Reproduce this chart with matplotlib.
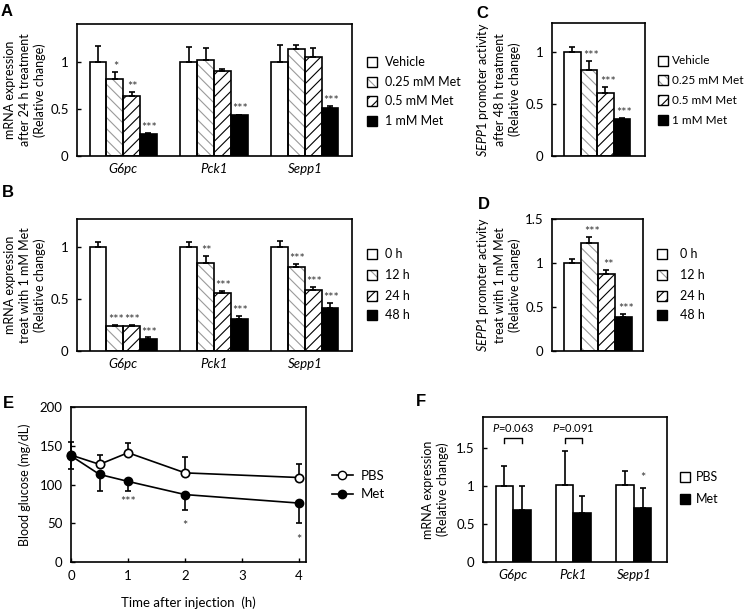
import numpy as np
import matplotlib
matplotlib.use("Agg")
import matplotlib.pyplot as plt
from matplotlib.patches import Rectangle
from matplotlib.lines import Line2D

plt.rcParams['font.family'] = ['Lato', 'DejaVu Sans']
plt.rcParams['font.size'] = 9
plt.rcParams['mathtext.fontset'] = 'custom'
plt.rcParams['mathtext.it'] = 'Lato:italic'
plt.rcParams['mathtext.rm'] = 'Lato'
plt.rcParams['hatch.linewidth'] = 0.8

FS = 9  # main text size
SFS = 9  # significance star size

# ---- data ----
genes = ['G6pc', 'Pck1', 'Sepp1']

# A: 24 h treatment, dose
doseLabels = ['Vehicle', '0.25 mM Met', '0.5 mM Met', '1 mM Met']
A_vals = [[1.00, 1.00, 1.00], [0.82, 1.02, 1.13], [0.64, 0.90, 1.05], [0.23, 0.43, 0.51]]
A_err = [[0.17, 0.16, 0.18], [0.07, 0.13, 0.05], [0.04, 0.02, 0.10], [0.01, 0.01, 0.02]]
A_stars = [['', '', ''], ['*', '', ''], ['**', '', ''], ['***', '***', '***']]

# B: 1 mM Met, time
timeLabels = ['0 h', '12 h', '24 h', '48 h']
B_vals = [[1.00, 1.00, 1.00], [0.24, 0.85, 0.81], [0.24, 0.56, 0.59], [0.12, 0.31, 0.41]]
B_err = [[0.05, 0.05, 0.06], [0.01, 0.06, 0.03], [0.01, 0.02, 0.03], [0.01, 0.03, 0.05]]
B_stars = [['', '', ''], ['***', '**', '***'], ['***', '***', '***'], ['***', '***', '***']]

# C: SEPP1 promoter, dose
C_vals = [1.00, 0.83, 0.61, 0.36]
C_err = [0.05, 0.08, 0.05, 0.005]
C_stars = ['', '***', '***', '***']

# D: SEPP1 promoter, time
D_vals = [1.00, 1.23, 0.88, 0.39]
D_err = [0.04, 0.06, 0.04, 0.03]
D_stars = ['', '***', '**', '***']

# E: blood glucose
E_time = [0, 0.5, 1, 2, 4]
E_pbs = [138, 126, 141, 115, 109]
E_pbs_err = [17, 12, 12, 20, 17]
E_met = [137, 113, 104, 87, 76]
E_met_err = [17, 22, 12, 20, 26]
E_stars = ['', '', '***', '*', '*']
E_star_y = [0, 0, 78, 46, 29]

# F: in vivo mRNA
F_pbs = [1.00, 1.01, 1.01]
F_pbs_err = [0.27, 0.45, 0.19]
F_met = [0.69, 0.65, 0.71]
F_met_err = [0.31, 0.22, 0.26]
F_pvals = ['0.063', '0.091', '']

# bar styles: (face, hatch, hatch colour)
styles = [('white', None, None), ('white', '\\\\\\', '#9a9a9a'),
          ('white', '///', 'black'), ('black', None, None)]

W, H = 744, 609
fig = plt.figure(figsize=(W / 100, H / 100), dpi=100)


def ax_at(x0, x1, y0, y1):
    return fig.add_axes([x0 / W, 1 - y1 / H, (x1 - x0) / W, (y1 - y0) / H])


def style_ax(ax):
    for s in ax.spines.values():
        s.set_linewidth(1.2)
    ax.tick_params(direction='in', length=3, width=1, labelsize=9.5, pad=6)


def draw_bar(ax, x, h, w, k):
    face, hatch, hc = styles[k]
    if hatch:
        ax.bar(x, h, w, color='white', edgecolor=hc, hatch=hatch, linewidth=0, zorder=2)
        ax.bar(x, h, w, color='none', edgecolor='black', linewidth=1.2, zorder=3)
    else:
        ax.bar(x, h, w, color=face, edgecolor='black', linewidth=1.2, zorder=3)


def up_err(ax, x, y, e):
    ax.errorbar(x, y, yerr=[[0], [e]], fmt='none', ecolor='black', elinewidth=1.2,
                capsize=2, capthick=1.2, zorder=4)


def box_legend(labels, styles_idx, x0, ys, tx, fs=FS):
    # legend squares drawn in figure pixel space
    for lab, k, y in zip(labels, styles_idx, ys):
        face, hatch, hc = styles[k]
        r = Rectangle((x0 / W, 1 - (y + 5) / H), 10 / W, 10 / H, transform=fig.transFigure,
                      facecolor=face, edgecolor=hc if hatch else 'black', hatch=hatch,
                      linewidth=0)
        fig.patches.append(r)
        r2 = Rectangle((x0 / W, 1 - (y + 5) / H), 10 / W, 10 / H, transform=fig.transFigure,
                       facecolor='none', edgecolor='black', linewidth=1.0)
        fig.patches.append(r2)
        fig.text(tx / W, 1 - y / H, lab, ha='left', va='center', fontsize=fs)


def grouped(ax, vals, errs, stars, ylim, yticks, yticklabels):
    bw = 0.185
    for k in range(4):
        for g in range(3):
            x = g + (k - 1.5) * bw
            draw_bar(ax, x, vals[k][g], bw, k)
            up_err(ax, x, vals[k][g], errs[k][g])
            if stars[k][g]:
                ax.text(x + 0.01, vals[k][g] + errs[k][g] - 0.01, stars[k][g], ha='center',
                        va='bottom', fontsize=SFS, color='#333333')
    ax.set_xlim(-0.51, 2.52)
    ax.set_ylim(*ylim)
    ax.set_yticks(yticks)
    ax.set_yticklabels(yticklabels)
    ax.set_xticks([0, 1, 2])
    ax.set_xticklabels(genes, fontstyle='italic', fontsize=9.5)
    ax.tick_params(axis='x', length=0, pad=5)


# ---- A ----
axA = ax_at(77, 352, 24, 156)
style_ax(axA)
grouped(axA, A_vals, A_err, A_stars, (0, 1.40), [0, 0.5, 1], ['0', '0.5', '1'])
axA.set_ylabel('mRNA expression\nafter 24 h treatment\n(Relative change)', fontsize=FS,
               linespacing=1.25, labelpad=3)
box_legend(doseLabels, [0, 1, 2, 3], 367, [62, 82, 101, 121], 385)

# ---- B ----
axB = ax_at(77, 352, 219, 351)
style_ax(axB)
grouped(axB, B_vals, B_err, B_stars, (0, 1.27), [0, 0.5, 1], ['0', '0.5', '1'])
axB.set_ylabel('mRNA expression\ntreat with 1 mM Met\n(Relative change)', fontsize=FS,
               linespacing=1.25, labelpad=3)
box_legend(timeLabels, [0, 1, 2, 3], 367, [254, 275, 296, 315], 385)


def single(ax, vals, errs, stars, xlim, ylim, yticks, yticklabels):
    for k in range(4):
        draw_bar(ax, k, vals[k], 1.0, k)
        up_err(ax, k, vals[k], errs[k])
        if stars[k]:
            ax.text(k + 0.15, vals[k] + errs[k] - 0.01, stars[k], ha='center', va='bottom',
                    fontsize=SFS, color='#333333')
    ax.set_xlim(*xlim)
    ax.set_ylim(*ylim)
    ax.set_yticks(yticks)
    ax.set_yticklabels(yticklabels)
    ax.set_xticks([])


# ---- C ----
axC = ax_at(552, 645, 23, 156)
style_ax(axC)
single(axC, C_vals, C_err, C_stars, (-1.23, 4.41), (0, 1.28), [0, 0.5, 1], ['0', '0.5', '1'])
axC.set_ylabel('$\\it{SEPP1}$ promoter activity\nafter 48 h treatment\n(Relative change)',
               fontsize=FS, linespacing=1.25, labelpad=3)
box_legend(doseLabels, [0, 1, 2, 3], 658, [61, 80, 100, 120], 672, fs=8.5)

# ---- D ----
axD = ax_at(552, 643, 219, 351)
style_ax(axD)
single(axD, D_vals, D_err, D_stars, (-1.2, 4.15), (0, 1.5), [0, 0.5, 1, 1.5],
       ['0', '0.5', '1', '1.5'])
axD.set_ylabel('$\\it{SEPP1}$ promoter activity\ntreat with 1 mM Met\n(Relative change)',
               fontsize=FS, linespacing=1.25, labelpad=3)
box_legend(timeLabels, [0, 1, 2, 3], 657, [254, 275, 296, 315], 680)

# ---- E ----
axE = ax_at(71, 306, 407, 562)
style_ax(axE)
axE.errorbar(E_time, E_pbs, yerr=[np.zeros(5), E_pbs_err], fmt='none', ecolor='black',
             elinewidth=1.2, capsize=2.5, capthick=1.2, clip_on=False, zorder=2)
axE.errorbar(E_time, E_met, yerr=[E_met_err, np.zeros(5)], fmt='none', ecolor='black',
             elinewidth=1.2, capsize=2.5, capthick=1.2, clip_on=False, zorder=2)
axE.plot(E_time, E_pbs, '-o', color='black', mfc='white', mew=1.2, ms=6, lw=1.2,
         clip_on=False, zorder=4)
axE.plot(E_time, E_met, '-o', color='black', mfc='black', ms=6, lw=1.2, clip_on=False, zorder=4)
for t, s, y in zip(E_time, E_stars, E_star_y):
    if s:
        axE.text(t, y, s, ha='center', va='center', fontsize=SFS, color='#333333')
axE.set_xlim(0, 4.12)
axE.set_ylim(0, 200)
axE.set_xticks([0, 1, 2, 3, 4])
axE.set_yticks([0, 50, 100, 150, 200])
axE.set_xlabel('Time after injection  (h)', fontsize=9.5, labelpad=10)
axE.set_ylabel('Blood glucose (mg/dL)', fontsize=FS, labelpad=6)
hE = [Line2D([], [], color='black', marker='o', mfc='white', ms=6, lw=1.2),
      Line2D([], [], color='black', marker='o', mfc='black', ms=6, lw=1.2)]
fig.legend(hE, ['PBS', 'Met'], loc='center left', bbox_to_anchor=(320 / W, 1 - 485 / H),
           frameon=False, fontsize=9.5, handlelength=1.6, handletextpad=0.6, labelspacing=0.5)

# ---- F ----
axF = ax_at(483, 667, 417, 562)
style_ax(axF)
bw = 0.29
for g in range(3):
    draw_bar(axF, g - bw / 2, F_pbs[g], bw, 0)
    up_err(axF, g - bw / 2, F_pbs[g], F_pbs_err[g])
    draw_bar(axF, g + bw / 2, F_met[g], bw, 3)
    up_err(axF, g + bw / 2, F_met[g], F_met_err[g])
    if F_pvals[g]:
        x0, x1 = g - bw / 2, g + bw / 2
        axF.plot([x0, x0, x1, x1], [1.57, 1.63, 1.63, 1.57], color='black', lw=1)
        axF.text(g, 1.68, '$\\it{P}$=' + F_pvals[g], ha='center', va='bottom', fontsize=8)
axF.text(2 + bw / 2, F_met[2] + F_met_err[2] + 0.06, '*', ha='center', va='bottom',
         fontsize=SFS, color='#333333')
axF.set_xlim(-0.5, 2.55)
axF.set_ylim(0, 1.91)
axF.set_yticks([0, 0.5, 1, 1.5])
axF.set_yticklabels(['0', '0.5', '1', '1.5'])
axF.set_xticks([0, 1, 2])
axF.set_xticklabels(genes, fontstyle='italic', fontsize=9.5)
axF.tick_params(axis='x', length=0, pad=5)
axF.set_ylabel('mRNA expression\n(Relative change)', fontsize=FS, linespacing=1.25, labelpad=5)
box_legend(['PBS', 'Met'], [0, 3], 680, [477, 499], 696)

# panel letters
for lab, x, y in [('A', 7, 12), ('B', 8, 192), ('C', 482, 14), ('D', 484, 205),
                  ('E', 8, 403), ('F', 421, 401)]:
    fig.text(x / W, 1 - y / H, lab, fontsize=12, fontweight='bold', ha='center', va='center',
             family='Liberation Sans')

fig.savefig('out.png', dpi=100)
